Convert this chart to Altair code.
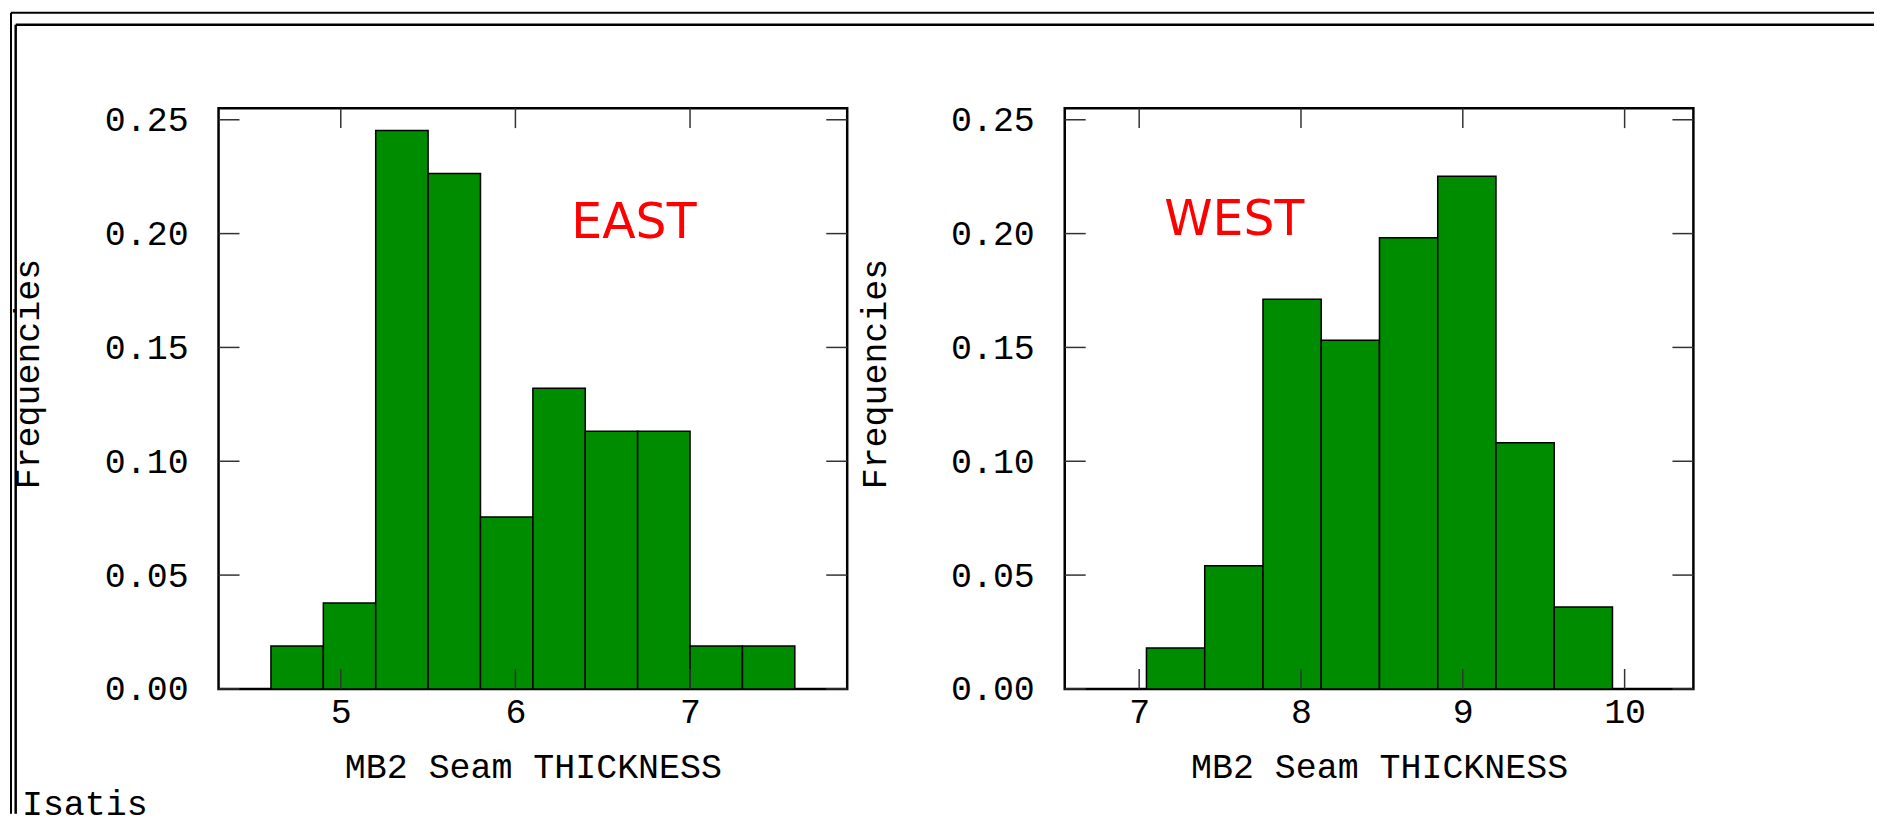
import altair as alt
import pandas as pd

# ---------------- data ----------------
east_edges = [4.6, 4.9, 5.2, 5.5, 5.8, 6.1, 6.4, 6.7, 7.0, 7.3, 7.6]
east_freq = [0.0189, 0.0377, 0.2453, 0.2264, 0.0755, 0.1321, 0.1132, 0.1132, 0.0189, 0.0189]

west_edges = [7.045, 7.405, 7.765, 8.125, 8.485, 8.845, 9.205, 9.565, 9.925]
west_freq = [0.0180, 0.0541, 0.1712, 0.1532, 0.1982, 0.2252, 0.1081, 0.0360]

east_xticks = [5, 6, 7]
west_xticks = [7, 8, 9, 10]
y_ticks = [0.0, 0.05, 0.10, 0.15, 0.20, 0.25]

east_domain = [4.3, 7.9]
west_domain = [6.54, 10.425]
y_domain = [0.0, 0.2551]

panel_labels = ["EAST", "WEST"]
panel_label_x = [6.32, 7.155]
panel_label_y = [0.198, 0.1996]

x_title = "MB2 Seam THICKNESS"
y_title = "Frequencies"
footer = ["Isatis"]

# ---------------- styles ----------------
MONO = "Liberation Mono"
SANS = "DejaVu Sans"
GREEN = "#008c00"
TICK = "#333333"
W, H = 630, 582
TLY, TLX = 21, 20


def panel(edges, freq, xticks, xdom, label, lx, ly, decorate=False):
    xs = alt.Scale(domain=xdom, nice=False, zero=False)
    ys = alt.Scale(domain=y_domain, nice=False, zero=False)
    bars_df = pd.DataFrame({"start": edges[:-1], "end": edges[1:], "freq": freq})

    bars = alt.Chart(bars_df).mark_rect(fill=GREEN, stroke="black", strokeWidth=1.5).encode(
        x=alt.X("start:Q", scale=xs, axis=alt.Axis(
            values=xticks, format="d", title=x_title, domain=False, ticks=False, tickSize=0,
            grid=False, labelPadding=6, labelFlush=False, labelOverlap=False,
            labelFont=MONO, labelFontSize=35, labelColor="black",
            titleFont=MONO, titleFontSize=35, titleFontWeight="normal", titleColor="black",
            titlePadding=20)),
        x2="end:Q",
        y=alt.Y("freq:Q", scale=ys, axis=alt.Axis(
            values=y_ticks, format=".2f", title=y_title, domain=False, ticks=False, tickSize=0,
            grid=False, labelPadding=30.5, labelFlush=False, labelOverlap=False,
            labelFont=MONO, labelFontSize=35, labelColor="black",
            titleFont=MONO, titleFontSize=35, titleFontWeight="normal", titleColor="black",
            titleAngle=270, titleAlign="center", titleBaseline="alphabetic",
            titleX=-180, titleY=266)),
        y2=alt.datum(0),
    )

    ytick_df = pd.DataFrame({"freq": y_ticks})
    xtick_df = pd.DataFrame({"start": xticks})
    yl = alt.Chart(ytick_df).mark_rule(color=TICK, strokeWidth=1.5).encode(
        y=alt.Y("freq:Q", scale=ys), x=alt.value(0), x2=alt.value(TLY))
    yr = alt.Chart(ytick_df).mark_rule(color=TICK, strokeWidth=1.5).encode(
        y=alt.Y("freq:Q", scale=ys), x=alt.value(W - TLY), x2=alt.value(W))
    xb = alt.Chart(xtick_df).mark_rule(color=TICK, strokeWidth=1.5).encode(
        x=alt.X("start:Q", scale=xs), y=alt.value(H), y2=alt.value(H - TLX))
    xt = alt.Chart(xtick_df).mark_rule(color=TICK, strokeWidth=1.5).encode(
        x=alt.X("start:Q", scale=xs), y=alt.value(0), y2=alt.value(TLX))

    ann_df = pd.DataFrame({"label": [label], "start": [lx], "freq": [ly]})
    ann = alt.Chart(ann_df).mark_text(
        font=SANS, fontSize=49, color="#ff0000", align="left", baseline="alphabetic"
    ).encode(
        x=alt.X("start:Q", scale=xs),
        y=alt.Y("freq:Q", scale=ys),
        text="label:N",
    )

    layers = [bars, yl, yr, xb, xt, ann]

    if decorate:
        one = pd.DataFrame({"d": [0]})
        right_end = 1659
        bottom_end = 707
        outer_top = alt.Chart(one).mark_rule(color="black", strokeWidth=2).encode(
            x=alt.value(-208), x2=alt.value(right_end), y=alt.value(-95.5))
        inner_top = alt.Chart(one).mark_rule(color="black", strokeWidth=2.5).encode(
            x=alt.value(-203.3), x2=alt.value(right_end), y=alt.value(-83.5))
        outer_left = alt.Chart(one).mark_rule(color="black", strokeWidth=2).encode(
            x=alt.value(-208), y=alt.value(-95.5), y2=alt.value(bottom_end))
        inner_left = alt.Chart(one).mark_rule(color="black", strokeWidth=2.5).encode(
            x=alt.value(-203.3), y=alt.value(-83.5), y2=alt.value(bottom_end))
        foot = alt.Chart(pd.DataFrame({"t": footer})).mark_text(
            font=MONO, fontSize=35, color="black", align="left", baseline="alphabetic"
        ).encode(x=alt.value(-197), y=alt.value(708), text="t:N")
        layers += [outer_top, inner_top, outer_left, inner_left, foot]

    return alt.layer(*layers).properties(width=W, height=H)


left = panel(east_edges, east_freq, east_xticks, east_domain,
             panel_labels[0], panel_label_x[0], panel_label_y[0], decorate=True)
right = panel(west_edges, west_freq, west_xticks, west_domain,
              panel_labels[1], panel_label_x[1], panel_label_y[1])

chart = alt.hconcat(left, right, spacing=218, bounds="flush").properties(
    padding={"left": 0, "top": 1.5, "right": 0, "bottom": 0},
    background="white",
).configure_view(stroke="black", strokeWidth=2.5)

chart.save("out.html", embed_options={"renderer": "svg", "actions": False})
